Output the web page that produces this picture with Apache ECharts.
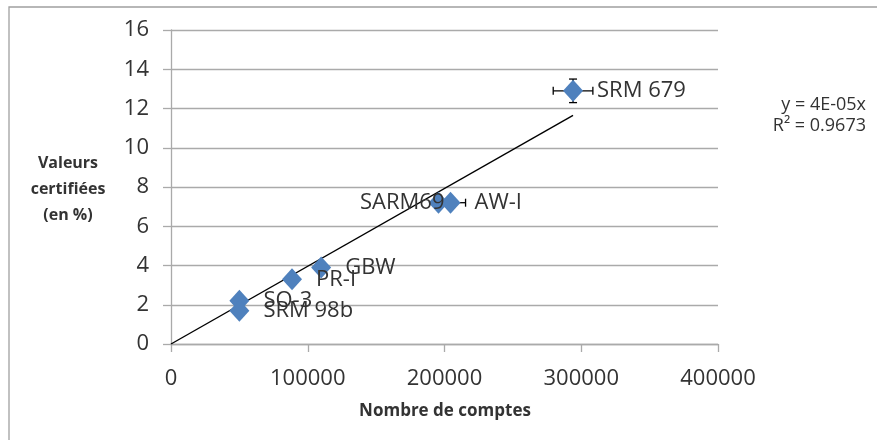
<!DOCTYPE html>
<html>
<head>
<meta charset="utf-8">
<script src="https://cdn.jsdelivr.net/npm/echarts@6/dist/echarts.min.js"></script>
<style>
  html, body { margin: 0; padding: 0; background: #ffffff; }
  #chart { width: 877px; height: 440px; }
</style>
</head>
<body>
<div id="chart"></div>
<script>
// Reference materials: certified value (%) against measured counts
const sampleNames = ['SRM 679', 'SARM69', 'AW-I', 'GBW', 'PR-I', 'SO-3', 'SRM 98b'];
const counts      = [294000, 195600, 204400, 109800, 88500, 50000, 50000];
const certified   = [12.9, 7.2, 7.2, 3.9, 3.3, 2.2, 1.7];
const countsErr   = [14500, 0, 11000, 0, 0, 0, 0];
const certErr     = [0.6, 0, 0, 0, 0, 0, 0];

// Linear fit through the origin
const fitX = [0, 294000];
const fitY = [0, 11.65];

const xTicks = { min: 0, max: 400000, interval: 100000 };
const yTicks = { min: 0, max: 16, interval: 2 };

const equationLines = ['y = 4E-05x', 'R² = 0.9673'];

const FONT = '"Open Sans", sans-serif';
const TEXT = '#333333';
const GRID = '#aaaaaa';

const points = sampleNames.map((n, i) => ({
  name: n,
  value: [counts[i], certified[i]],
  label: n === 'SARM69'
    ? { position: 'left', distance: 5, offset: [21, 0] }
    : undefined
}));

const errorData = sampleNames.map((n, i) => [counts[i], certified[i], countsErr[i], certErr[i]]);

const chart = echarts.init(document.getElementById('chart'), null, { renderer: 'canvas' });

chart.setOption({
  backgroundColor: '#ffffff',
  animation: false,
  grid: { left: 171, right: 159, top: 30, bottom: 96, containLabel: false },
  xAxis: {
    type: 'value',
    min: xTicks.min, max: xTicks.max, interval: xTicks.interval,
    axisLine: { show: true, lineStyle: { color: GRID, width: 1.3 } },
    axisTick: { show: true, length: 8, lineStyle: { color: GRID, width: 1.3 } },
    splitLine: { show: false },
    axisLabel: { color: TEXT, fontFamily: FONT, fontSize: 22, margin: 24, formatter: v => String(v) }
  },
  yAxis: {
    type: 'value',
    min: yTicks.min, max: yTicks.max, interval: yTicks.interval,
    axisLine: { show: true, lineStyle: { color: GRID, width: 1.3 } },
    axisTick: { show: true, length: 8, lineStyle: { color: GRID, width: 1.3 } },
    splitLine: { show: true, lineStyle: { color: GRID, width: 1.3 } },
    axisLabel: { color: TEXT, fontFamily: FONT, fontSize: 22, margin: 22, formatter: v => String(v) }
  },
  series: [
    {
      type: 'line',
      data: fitX.map((x, i) => [x, fitY[i]]),
      symbol: 'none',
      lineStyle: { color: '#000000', width: 1.4 },
      z: 3,
      silent: true
    },
    {
      type: 'custom',
      data: errorData,
      z: 4,
      renderItem: function (params, api) {
        const x = api.value(0), y = api.value(1), ex = api.value(2), ey = api.value(3);
        const style = { stroke: '#000000', lineWidth: 1.3 };
        const cap = 4;
        const children = [];
        if (ex > 0) {
          const l = api.coord([x - ex, y]);
          const r = api.coord([x + ex, y]);
          children.push({ type: 'line', shape: { x1: l[0], y1: l[1], x2: r[0], y2: r[1] }, style });
          children.push({ type: 'line', shape: { x1: l[0], y1: l[1] - cap, x2: l[0], y2: l[1] + cap }, style });
          children.push({ type: 'line', shape: { x1: r[0], y1: r[1] - cap, x2: r[0], y2: r[1] + cap }, style });
        }
        if (ey > 0) {
          const t = api.coord([x, y + ey]);
          const b = api.coord([x, y - ey]);
          children.push({ type: 'line', shape: { x1: t[0], y1: t[1], x2: b[0], y2: b[1] }, style });
          children.push({ type: 'line', shape: { x1: t[0] - cap, y1: t[1], x2: t[0] + cap, y2: t[1] }, style });
          children.push({ type: 'line', shape: { x1: b[0] - cap, y1: b[1], x2: b[0] + cap, y2: b[1] }, style });
        }
        return { type: 'group', children };
      }
    },
    {
      type: 'scatter',
      data: points,
      symbol: 'diamond',
      symbolSize: [20, 22],
      itemStyle: { color: '#4f81bd', opacity: 1 },
      z: 5,
      label: {
        show: true,
        position: 'right',
        distance: 14,
        formatter: p => p.name,
        color: TEXT,
        fontFamily: FONT,
        fontSize: 22
      }
    }
  ],
  graphic: [
    {
      type: 'rect',
      shape: { x: 9, y: 7, width: 900, height: 460 },
      style: { fill: 'none', stroke: '#a0a0a0', lineWidth: 1.3 },
      silent: true, z: -10
    },
    {
      type: 'text',
      x: 68, y: 150,
      style: {
        text: 'Valeurs\ncertifiées\n(en %)',
        font: 'bold 16px ' + FONT,
        fill: TEXT,
        textAlign: 'center',
        lineHeight: 26
      }
    },
    {
      type: 'text',
      x: 445, y: 411,
      style: {
        text: 'Nombre de comptes',
        font: 'bold 17px ' + FONT,
        fill: TEXT,
        textAlign: 'center',
        textVerticalAlign: 'middle'
      }
    },
    {
      type: 'text',
      x: 866, y: 94,
      style: {
        text: equationLines.join('\n'),
        font: '18px ' + FONT,
        fill: TEXT,
        textAlign: 'right',
        lineHeight: 21
      }
    }
  ]
});
</script>
</body>
</html>
